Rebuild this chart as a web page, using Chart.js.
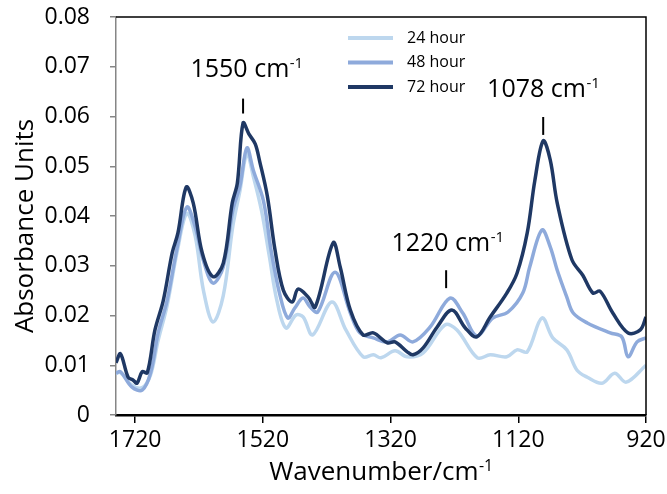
<!DOCTYPE html>
<html><head><meta charset="utf-8">
<script src="https://cdn.jsdelivr.net/npm/chart.js@4.4.1/dist/chart.umd.min.js"></script>
<style>html,body{margin:0;padding:0;background:#fff;}#wrap{width:667px;height:494px;}</style>
</head><body><div id="wrap"><canvas id="c" width="667" height="494"></canvas></div>
<script>
// ---- data ----
const seriesNames = ['24 hour', '48 hour', '72 hour'];

const wn24 = [1750,1743,1725,1709,1696,1684,1670,1654,1639,1626,1613,1598,1582,1567,1556,1545,1535,1522,1510,1498,1484,1468,1457,1442,1412,1390,1363,1347,1335,1313,1294,1269,1235,1216,1184,1164,1138,1122,1106,1083,1066,1044,1028,1012,989,969,951,920];
const abs24 = [0.0084,0.0085,0.0060,0.0055,0.0080,0.0150,0.0220,0.0330,0.0405,0.0360,0.0250,0.0187,0.0240,0.0380,0.0450,0.0525,0.0480,0.0410,0.0320,0.0230,0.0175,0.0201,0.0197,0.0161,0.0227,0.0171,0.0117,0.0121,0.0115,0.0129,0.0117,0.0125,0.0181,0.0171,0.0115,0.0121,0.0117,0.0131,0.0127,0.0195,0.0155,0.0131,0.0090,0.0076,0.0064,0.0084,0.0066,0.0100];

const wn48 = [1750,1743,1725,1709,1696,1684,1670,1654,1639,1626,1613,1598,1582,1567,1556,1545,1535,1519,1507,1494,1481,1470,1457,1446,1434,1407,1383,1368,1347,1325,1305,1285,1258,1227,1207,1185,1160,1136,1113,1102,1083,1070,1059,1044,1034,1012,976,958,948,934,920];
const abs48 = [0.0084,0.0087,0.0056,0.0050,0.0084,0.0165,0.0230,0.0338,0.0418,0.0378,0.0310,0.0265,0.0298,0.0412,0.0460,0.0537,0.0492,0.0430,0.0330,0.0245,0.0195,0.0215,0.0235,0.0217,0.0207,0.0287,0.0205,0.0165,0.0155,0.0147,0.0161,0.0147,0.0177,0.0235,0.0205,0.0159,0.0195,0.0207,0.0245,0.0298,0.0372,0.0338,0.0291,0.0237,0.0205,0.0185,0.0165,0.0157,0.0117,0.0147,0.0155];

const wn72 = [1750,1743,1731,1723,1717,1709,1701,1689,1676,1662,1653,1640,1629,1615,1598,1582,1568,1560,1551,1542,1532,1525,1513,1501,1488,1474,1465,1449,1438,1410,1399,1383,1363,1347,1325,1313,1294,1285,1269,1247,1224,1203,1185,1164,1138,1122,1106,1094,1081,1070,1059,1036,1019,1003,992,972,948,929,920];
const abs72 = [0.0105,0.0123,0.0076,0.0070,0.0064,0.0087,0.0085,0.0171,0.0230,0.0326,0.0366,0.0458,0.0426,0.0326,0.0278,0.0305,0.0426,0.0466,0.0587,0.0565,0.0545,0.0510,0.0440,0.0332,0.0251,0.0227,0.0253,0.0237,0.0217,0.0346,0.0298,0.0211,0.0161,0.0165,0.0145,0.0147,0.0127,0.0121,0.0135,0.0177,0.0211,0.0175,0.0157,0.0197,0.0245,0.0285,0.0366,0.0472,0.0551,0.0513,0.0426,0.0312,0.0281,0.0245,0.0249,0.0205,0.0165,0.0171,0.0197];

const xTicks = [1720, 1520, 1320, 1120, 920];
const yTicks = [0, 0.01, 0.02, 0.03, 0.04, 0.05, 0.06, 0.07, 0.08];

const peakLabels = ['1550 cm', '1220 cm', '1078 cm'];
const peakSup = '-1';
const peakLabelX = [1545.5, 1230.8, 1081];
const peakLabelY = [0.0679, 0.0330, 0.0639];
const peakMarkX = [1551, 1233, 1081];
const peakMarkTop = [0.0636, 0.0291, 0.0599];
const peakMarkBottom = [0.0606, 0.0255, 0.0563];

const xTitle = 'Wavenumber/cm';
const yTitle = 'Absorbance Units';

// ---- styles ----
const colors = ['#BDD7EE', '#8EAADB', '#1F3864'];
const FONT = "'Open Sans', sans-serif";

const toXY = (xs, ys) => xs.map((x, i) => ({ x: x, y: ys[i] }));

function drawSup(ctx, main, sup, cx, base, size, supSize) {
  ctx.font = size + 'px ' + FONT;
  const w1 = ctx.measureText(main).width;
  ctx.font = supSize + 'px ' + FONT;
  const w2 = ctx.measureText(sup).width;
  const x0 = cx - (w1 + w2) / 2;
  ctx.textAlign = 'left';
  ctx.textBaseline = 'alphabetic';
  ctx.font = size + 'px ' + FONT;
  ctx.fillText(main, x0, base);
  ctx.font = supSize + 'px ' + FONT;
  ctx.fillText(sup, x0 + w1 + 0.5, base - size * 0.36);
}

const noPad = s => { s.paddingTop = 0; s.paddingBottom = 0; s.paddingLeft = 0; s.paddingRight = 0; };

const decor = {
  id: 'decor',
  afterDatasetsDraw(chart) {
    const ctx = chart.ctx, a = chart.chartArea;
    const xs = chart.scales.x, ys = chart.scales.y;
    ctx.save();
    ctx.strokeStyle = '#000';
    ctx.lineWidth = 1.5;
    ctx.beginPath();
    ctx.moveTo(a.left, a.top); ctx.lineTo(a.right, a.top); ctx.lineTo(a.right, a.bottom);
    ctx.stroke();
    const lx = a.left + 232, ly = a.top + 21, gap = 24.5;
    [0, 1, 2].forEach(i => {
      ctx.strokeStyle = colors[i];
      ctx.lineWidth = 4;
      ctx.beginPath();
      ctx.moveTo(lx, ly + i * gap); ctx.lineTo(lx + 45, ly + i * gap);
      ctx.stroke();
      ctx.fillStyle = '#000';
      ctx.font = '16px ' + FONT;
      ctx.textAlign = 'left';
      ctx.textBaseline = 'middle';
      ctx.fillText(seriesNames[i], lx + 59, ly + i * gap);
    });
    ctx.fillStyle = '#000';
    peakLabels.forEach((t, i) => {
      drawSup(ctx, t, peakSup, xs.getPixelForValue(peakLabelX[i]), ys.getPixelForValue(peakLabelY[i]), 25, 15);
      ctx.strokeStyle = '#000';
      ctx.lineWidth = 2;
      ctx.beginPath();
      const px = xs.getPixelForValue(peakMarkX[i]);
      ctx.moveTo(px, ys.getPixelForValue(peakMarkTop[i]));
      ctx.lineTo(px, ys.getPixelForValue(peakMarkBottom[i]));
      ctx.stroke();
    });
    drawSup(ctx, xTitle, peakSup, (a.left + a.right) / 2, 480, 26, 16);
    ctx.save();
    ctx.translate(33, (a.top + a.bottom) / 2 + 10);
    ctx.rotate(-Math.PI / 2);
    ctx.font = '26px ' + FONT;
    ctx.textAlign = 'center';
    ctx.textBaseline = 'alphabetic';
    ctx.fillText(yTitle, 0, 0);
    ctx.restore();
    ctx.restore();
  }
};

new Chart(document.getElementById('c'), {
  type: 'line',
  data: {
    datasets: [
      { label: seriesNames[2], data: toXY(wn72, abs72), borderColor: colors[2], borderWidth: 3.5, pointRadius: 0, tension: 0.35, fill: false },
      { label: seriesNames[1], data: toXY(wn48, abs48), borderColor: colors[1], borderWidth: 3.5, pointRadius: 0, tension: 0.35, fill: false },
      { label: seriesNames[0], data: toXY(wn24, abs24), borderColor: colors[0], borderWidth: 3.5, pointRadius: 0, tension: 0.35, fill: false }
    ]
  },
  options: {
    responsive: false,
    animation: false,
    devicePixelRatio: 1,
    layout: { padding: { top: 17, right: 21, left: 0, bottom: 0 } },
    plugins: { legend: { display: false }, tooltip: { enabled: false } },
    scales: {
      x: {
        type: 'linear', reverse: true, min: 920, max: 1750,
        afterBuildTicks: s => { s.ticks = xTicks.map(v => ({ value: v })); },
        afterFit: s => { s.height = 79; noPad(s); },
        ticks: { color: '#000', font: { family: FONT, size: 23 }, padding: 4, maxRotation: 0, autoSkip: false,
          callback: v => String(v) },
        grid: { drawOnChartArea: false, drawTicks: true, tickLength: 8, color: '#000', lineWidth: 1.5 },
        border: { display: true, color: '#000', width: 2.5 }
      },
      y: {
        min: 0, max: 0.08,
        afterBuildTicks: s => { s.ticks = yTicks.map(v => ({ value: v })); },
        afterFit: s => { s.width = 116; noPad(s); },
        ticks: { color: '#000', font: { family: FONT, size: 23 }, padding: 20,
          callback: v => v === 0 ? '0' : v.toFixed(2) },
        grid: { drawOnChartArea: false, drawTicks: true, tickLength: 6, color: '#868686', lineWidth: 1.5 },
        border: { display: true, color: '#868686', width: 1.5 }
      }
    }
  },
  plugins: [decor]
});
</script></body></html>
